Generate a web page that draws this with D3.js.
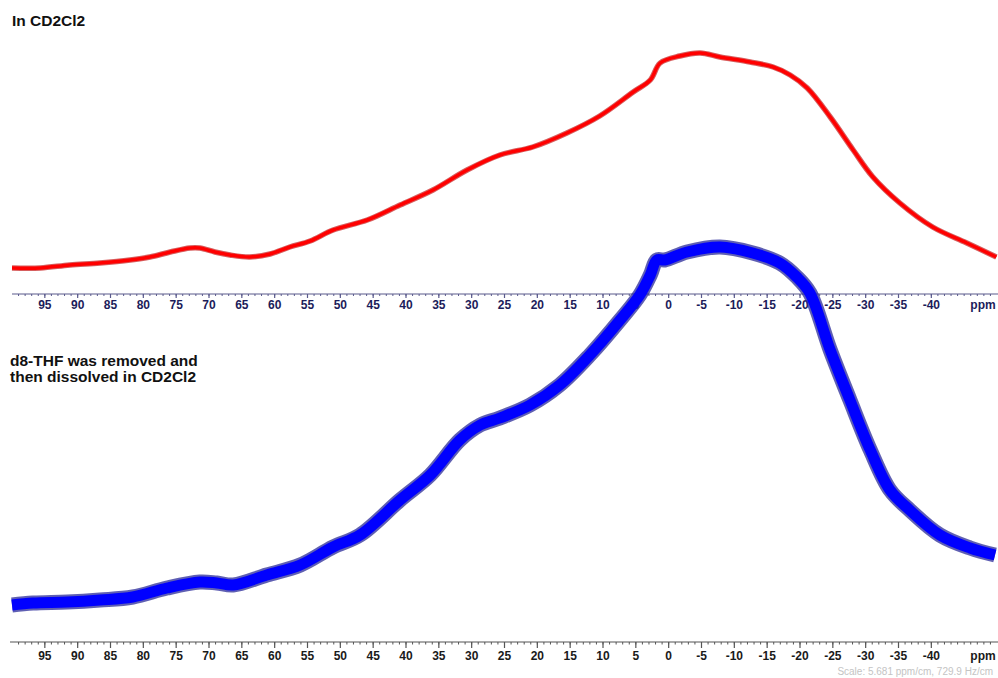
<!DOCTYPE html>
<html>
<head>
<meta charset="utf-8">
<script src="https://cdn.jsdelivr.net/npm/d3@7"></script>
<style>
    body { margin: 0; background: #fff; }
    text { font-family: "Liberation Sans", Arial, Helvetica, sans-serif; }
</style>
</head>
<body>
<script>
var svgWidth = 998;
var svgHeight = 678;

// ppm positions and intensities
var redPpm = [100, 95.7, 91.2, 86.6, 82, 79, 75.9, 72.9, 71.4, 69.1,
    66.8, 63.8, 60.7, 57.7, 54.6, 51.1, 45.9, 40.9, 35.9, 30.7,
    25.7, 20.7, 15.5, 10.5, 5.4, 2.8, 1.3, -1.7, -4.8, -7.8,
    -12.4, -15.9, -18.5, -21.1, -24.6, -28.1, -31.1, -35.2, -40.2, -45.4, -49.9];
var redIntensity = [8.8, 8.8, 10, 10.8, 12, 13.2, 15.2, 16.8, 16.8, 15.2,
    14, 13.2, 14.4, 17.2, 19.6, 24, 28, 34, 40, 48,
    54, 57.2, 62.8, 69.6, 79.2, 84, 90.8, 93.6, 94.8, 93.2,
    91.2, 89.2, 86, 80.8, 69.2, 56, 45.2, 34.8, 25.2, 18.8, 13.2];

var bluePpm = [100, 96.8, 91.6, 86.6, 81.6, 76.4, 71.4, 68.8, 66.3, 61.2,
    56.1, 51.1, 47, 40.9, 36.3, 31.8, 28.7, 25.7, 21.1, 16.6,
    12, 7.4, 4.4, 2.8, 1.8, 0.6, -2.8, -7.8, -12.8, -16.9,
    -19.5, -21.5, -24.6, -27.6, -30.7, -33.7, -36.7, -41.3, -45.9, -49.7];
var blueIntensity = [8.75, 9.25, 9.5, 10, 10.75, 13, 14.5, 14.25, 13.75, 16.25,
    18.75, 23.25, 26.25, 35, 41.25, 50, 53.75, 55.5, 58.75, 63.75,
    71.25, 80, 86.25, 91.25, 95, 95, 97, 98.25, 96.75, 94.25,
    90.75, 86.75, 72.5, 60, 47.5, 37.5, 32.5, 26.25, 23, 21.25];

var tickLabels = [95, 90, 85, 80, 75, 70, 65, 60, 55, 50, 45, 40, 35, 30, 25, 20, 15, 10, 5, 0,
    -5, -10, -15, -20, -25, -30, -35, -40];
var minorTicks = d3.range(99, -50, -1);

var topTitle = "In CD2Cl2";
var bottomTitle = ["d8-THF was removed and", "then dissolved in CD2Cl2"];
var scaleNote = "Scale: 5.681 ppm/cm, 729.9 Hz/cm";

var xScale = d3.scaleLinear()
    .domain([100, -50])
    .range([12, 997]);

var yTop = d3.scaleLinear()
    .domain([0, 100])
    .range([290, 40]);

var yBottom = d3.scaleLinear()
    .domain([0, 100])
    .range([640, 240]);

var svg = d3.select("body")
    .append("svg")
    .attr("width", svgWidth)
    .attr("height", svgHeight);

function drawAxis(y, lineColor, labelColor, majorLen, minorLen, labelY, x0) {
    var g = svg.append("g");

    g.append("line")
        .attr("x1", x0)
        .attr("x2", 998)
        .attr("y1", y)
        .attr("y2", y)
        .attr("stroke", lineColor)
        .attr("stroke-width", 1.2);

    g.selectAll(".minor")
        .data(minorTicks).enter()
        .append("line")
        .attr("x1", d => xScale(d))
        .attr("x2", d => xScale(d))
        .attr("y1", y)
        .attr("y2", y + minorLen)
        .attr("stroke", lineColor)
        .attr("stroke-width", 1);

    g.selectAll(".major")
        .data(tickLabels).enter()
        .append("line")
        .attr("x1", d => xScale(d))
        .attr("x2", d => xScale(d))
        .attr("y1", y)
        .attr("y2", y + majorLen)
        .attr("stroke", lineColor)
        .attr("stroke-width", 1.2);

    g.selectAll(".lbl")
        .data(tickLabels).enter()
        .append("text")
        .attr("x", d => xScale(d))
        .attr("y", labelY)
        .attr("text-anchor", "middle")
        .attr("font-size", "12px")
        .attr("font-weight", "bold")
        .attr("fill", labelColor)
        .text(d => d);

    g.append("text")
        .attr("x", 983)
        .attr("y", labelY)
        .attr("text-anchor", "middle")
        .attr("font-size", "12px")
        .attr("font-weight", "bold")
        .attr("fill", labelColor)
        .text("ppm");
}

function drawTrace(ppm, vals, yScale, edge, core, edgeW, coreW) {
    var pts = ppm.map((p, i) => [xScale(p), yScale(vals[i])]);
    var line = d3.line().curve(d3.curveCatmullRom.alpha(0.5));

    svg.append("path")
        .attr("d", line(pts))
        .attr("fill", "none")
        .attr("stroke", edge)
        .attr("stroke-opacity", 0.75)
        .attr("stroke-width", edgeW)
        .attr("stroke-linejoin", "round");

    svg.append("path")
        .attr("d", line(pts))
        .attr("fill", "none")
        .attr("stroke", core)
        .attr("stroke-width", coreW)
        .attr("stroke-linejoin", "round");
}

// top spectrum
drawAxis(294, "#5a5a8c", "#1c1c5a", 4, 2, 309, 12);
drawTrace(redPpm, redIntensity, yTop, "#c82828", "#ff0000", 5.5, 3.5);

// bottom spectrum
drawAxis(642, "#555555", "#1a1a1a", 6, 2.5, 660, 10);
drawTrace(bluePpm, blueIntensity, yBottom, "#2a2a9a", "#0000ff", 15, 11);

svg.append("text")
    .attr("x", 12)
    .attr("y", 26)
    .attr("font-size", "15.5px")
    .attr("font-weight", "bold")
    .attr("fill", "#111")
    .text(topTitle);

svg.selectAll(".btitle")
    .data(bottomTitle).enter()
    .append("text")
    .attr("x", 10)
    .attr("y", (d, i) => 366 + i * 16)
    .attr("font-size", "15.5px")
    .attr("font-weight", "bold")
    .attr("fill", "#111")
    .text(d => d);

svg.append("text")
    .attr("x", 993)
    .attr("y", 675)
    .attr("text-anchor", "end")
    .attr("font-size", "10px")
    .attr("fill", "#c4c4c4")
    .text(scaleNote);
</script>
</body>
</html>
